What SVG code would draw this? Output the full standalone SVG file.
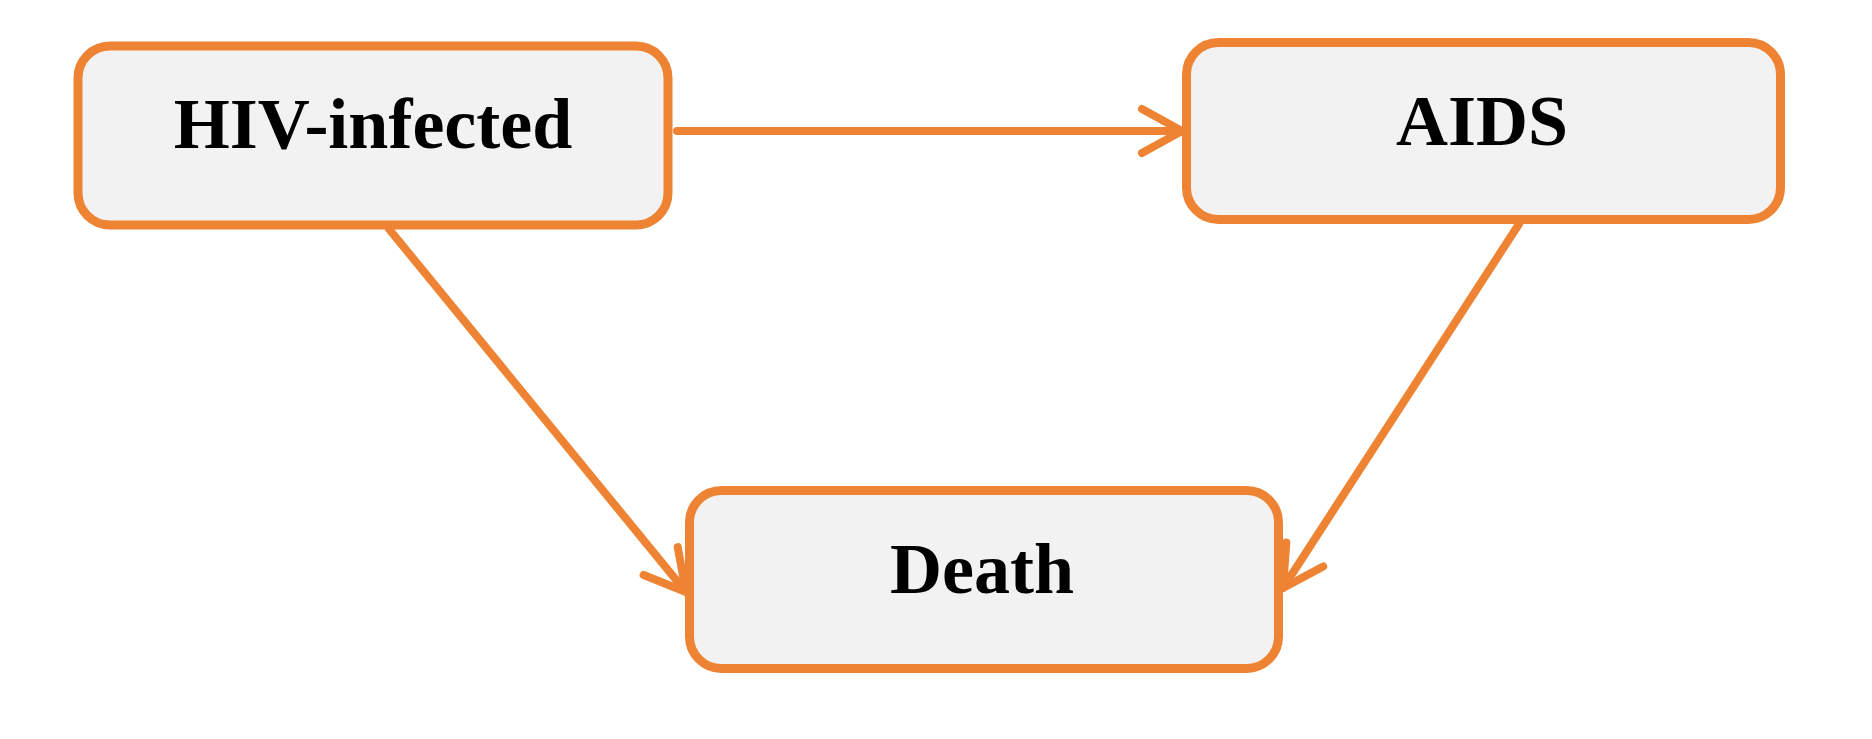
<svg xmlns="http://www.w3.org/2000/svg" width="1872" height="739" viewBox="0 0 1872 739">
<style>
.node rect{fill:#F2F2F2;stroke:#EE8433;stroke-width:9}
.node text{font-family:"Liberation Serif","Times New Roman",serif;font-weight:bold;font-size:72px;fill:#000;text-anchor:middle}
.edge{stroke:#EE8433;stroke-width:8;fill:none;stroke-linecap:round;marker-end:url(#arr)}
</style>
<defs>
<marker id="arr" markerUnits="userSpaceOnUse" orient="auto" markerWidth="60" markerHeight="60" viewBox="-50 -30 60 60" refX="0" refY="0" overflow="visible">
<path d="M-40,-22 L0,0 L-40,22" fill="none" stroke="#EE8433" stroke-width="8" stroke-linecap="round" stroke-linejoin="round"/>
</marker>
</defs>
<rect width="1872" height="739" fill="#fff"/>
<g id="node-hiv" class="node">
<rect x="78" y="46" width="590" height="179" rx="32"/>
<text x="373" y="148">HIV-infected</text>
</g>
<g id="node-aids" class="node">
<rect x="1186.5" y="42.5" width="594" height="177" rx="32"/>
<text x="1482" y="145">AIDS</text>
</g>
<g id="node-death" class="node">
<rect x="689.5" y="490.5" width="589" height="178" rx="32"/>
<text x="982" y="593">Death</text>
</g>
<g id="connectors">
<line class="edge" x1="677" y1="131" x2="1182" y2="131"/>
<line class="edge" x1="389" y1="229" x2="686" y2="592"/>
<line class="edge" x1="1519" y1="224" x2="1283" y2="588"/>
</g>
</svg>
